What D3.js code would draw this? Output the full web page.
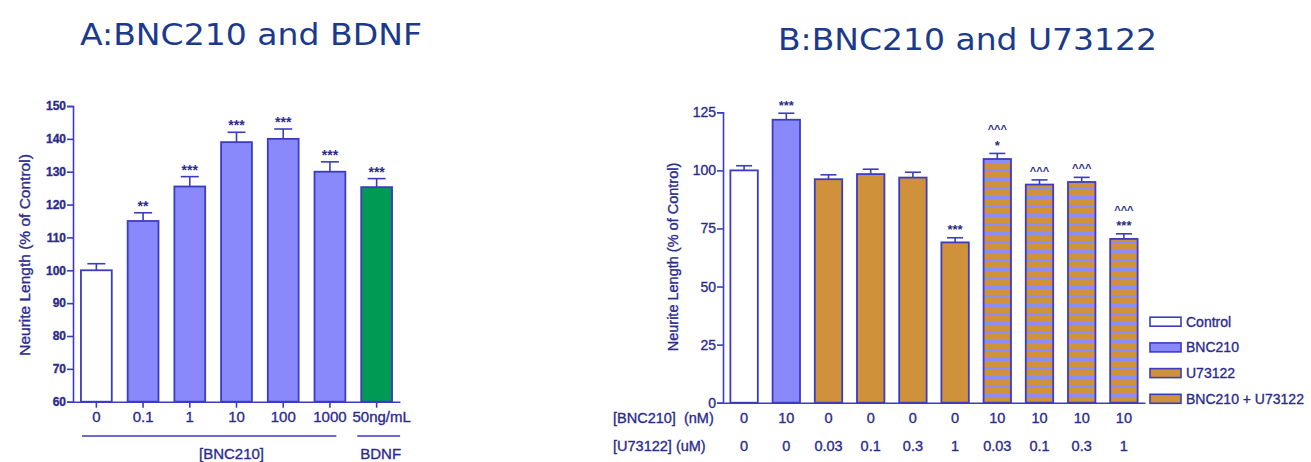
<!DOCTYPE html>
<meta charset="utf-8">
<script src="https://d3js.org/d3.v7.min.js"></script>
<style>
 body { margin: 0; background: #fff; }
 svg text { font-family: "Liberation Sans", Arial, sans-serif; }
 .ink { stroke: #2b2b8e; stroke-width: 0.35px; }
</style>
<div id="chart"></div>
<script>

 const colorText = "#2b2b8e";
 const colorTitle = "#1c3a8c";
 const colorLine = "#3c3cc0";
 const colorPurple = "#8989fb";
 const colorGreen = "#009a55";
 const colorOrange = "#d0913b";

 // ---- data, panel A ----
 const catsA = ["0", "0.1", "1", "10", "100", "1000", "50ng/mL"];
 const valuesA = [100, 115, 125.5, 139, 140, 130, 125.3];
 const errorsA = [2, 2.5, 3, 3, 3, 3, 2.6];
 const starsA = ["", "**", "***", "***", "***", "***", "***"];
 const ticksA = [60, 70, 80, 90, 100, 110, 120, 130, 140, 150];

 // ---- data, panel B ----
 const catsB = ["c0", "c1", "c2", "c3", "c4", "c5", "c6", "c7", "c8", "c9"];
 const bncB = ["0", "10", "0", "0", "0", "0", "10", "10", "10", "10"];
 const uB = ["0", "0", "0.03", "0.1", "0.3", "1", "0.03", "0.1", "0.3", "1"];
 const valuesB = [100, 121.8, 96.2, 98.4, 96.9, 69, 104.9, 93.9, 95, 70.5];
 const errorsB = [2, 2.8, 1.9, 2.1, 2.3, 2, 2.4, 2, 2, 2.2];
 const groupB = ["Control", "BNC210", "U73122", "U73122", "U73122", "U73122",
                 "BNC210 + U73122", "BNC210 + U73122", "BNC210 + U73122", "BNC210 + U73122"];
 // marks above each bar, lowest first
 const sigB = [[], ["***"], [], [], [], ["***"], ["*", "^^^"], ["^^^"], ["^^^"], ["***", "^^^"]];
 const ticksB = [0, 25, 50, 75, 100, 125];
 const legendB = ["Control", "BNC210", "U73122", "BNC210 + U73122"];

 const svg = d3.select("#chart").append("svg")
               .attr("width", 1311).attr("height", 462);

 // stripes for the combined treatment
 const pat = svg.append("defs").append("pattern")
                .attr("id", "stripes").attr("patternUnits", "userSpaceOnUse")
                .attr("width", 10).attr("height", 9).attr("y", 1);
 pat.append("rect").attr("width", 10).attr("height", 9).attr("fill", colorOrange);
 pat.append("rect").attr("y", 6).attr("width", 10).attr("height", 3).attr("fill", "#8c8cf5");

 const fillB = d3.scaleOrdinal().domain(legendB)
                 .range(["#ffffff", colorPurple, colorOrange, "url(#stripes)"]);

 // titles
 svg.append("text").attr("x", 80).attr("y", 45).text("A:BNC210 and BDNF")
    .style("font-family", "DejaVu Sans").style("font-size", "30px").style("fill", colorTitle)
    .attr("textLength", 342).attr("lengthAdjust", "spacingAndGlyphs");
 svg.append("text").attr("x", 778).attr("y", 50).text("B:BNC210 and U73122")
    .style("font-family", "DejaVu Sans").style("font-size", "30px").style("fill", colorTitle)
    .attr("textLength", 379).attr("lengthAdjust", "spacingAndGlyphs");

 function styleAxis(g, size) {
     g.selectAll("path, line").attr("stroke", colorLine).attr("stroke-width", 1.6);
     g.selectAll("text").attr("class", "ink").style("fill", colorText).style("font-size", size)
      .style("font-family", "Liberation Sans");
 }

 // ================= panel A =================
 const xA = d3.scaleBand().domain(catsA).range([73, 400])
              .paddingInner(0.34).paddingOuter(0.17);
 const yA = d3.scaleLinear().domain([60, 150]).range([401.7, 106]);
 const bwA = xA.bandwidth();

 svg.append("g").selectAll("rect").data(catsA).join("rect")
    .attr("x", d => xA(d))
    .attr("y", (d, i) => yA(valuesA[i]))
    .attr("width", bwA)
    .attr("height", (d, i) => yA(60) - yA(valuesA[i]))
    .attr("fill", (d, i) => i == 0 ? "#fff" : (i == 6 ? colorGreen : colorPurple))
    .attr("stroke", colorLine).attr("stroke-width", 1.8);

 // error bars
 const errA = svg.append("g").attr("stroke", colorLine).attr("stroke-width", 1.6);
 catsA.forEach((c, i) => {
     const cx = xA(c) + bwA / 2, top = yA(valuesA[i] + errorsA[i]);
     errA.append("line").attr("x1", cx).attr("x2", cx).attr("y1", yA(valuesA[i])).attr("y2", top);
     errA.append("line").attr("x1", cx - 9).attr("x2", cx + 9).attr("y1", top).attr("y2", top);
     svg.append("text").attr("x", cx).attr("y", top - 2).text(starsA[i])
        .attr("text-anchor", "middle").style("font-size", "14px").style("font-weight", "bold")
        .style("fill", colorText);
 });

 svg.append("g").attr("transform", "translate(73,0)")
    .call(d3.axisLeft(yA).tickValues(ticksA).tickSize(6).tickPadding(1))
    .call(g => styleAxis(g, "12px"))
    .call(g => g.selectAll("text").style("font-weight", "bold"));

 svg.append("g").attr("transform", `translate(0,${yA(60)})`)
    .call(d3.axisBottom(xA).tickSize(6).tickPadding(4).tickSizeOuter(0))
    .call(g => styleAxis(g, "15px"))
    .call(g => g.selectAll(".tick:last-of-type text").attr("dx", 5));

 svg.append("text").attr("class", "ink").attr("transform", "translate(30,255) rotate(-90)")
    .attr("text-anchor", "middle").text("Neurite Length (% of  Control)")
    .style("font-size", "15.5px").style("fill", colorText);

 // group brackets under panel A
 svg.append("line").attr("x1", xA(catsA[0]) + 1).attr("x2", xA(catsA[5]) + bwA - 9)
    .attr("y1", 436).attr("y2", 436).attr("stroke", "#6a6ad6").attr("stroke-width", 2);
 svg.append("line").attr("x1", xA(catsA[6]) - 4).attr("x2", xA(catsA[6]) + bwA + 8)
    .attr("y1", 436).attr("y2", 436).attr("stroke", "#6a6ad6").attr("stroke-width", 2);
 svg.append("text").attr("class", "ink").attr("x", xA("10") + bwA / 2 - 5).attr("y", 459)
    .attr("text-anchor", "middle").text("[BNC210]").style("font-size", "15px").style("fill", colorText);
 svg.append("text").attr("class", "ink").attr("x", xA(catsA[6]) + bwA / 2 + 4).attr("y", 459)
    .attr("text-anchor", "middle").text("BDNF").style("font-size", "15px").style("fill", colorText);

 // ================= panel B =================
 const xB = d3.scaleBand().domain(catsB).range([723, 1145])
              .paddingInner(0.35).paddingOuter(0.175);
 const yB = d3.scaleLinear().domain([0, 125]).range([402.7, 112.3]);
 const bwB = xB.bandwidth();

 svg.append("g").selectAll("rect").data(catsB).join("rect")
    .attr("x", d => xB(d))
    .attr("y", (d, i) => yB(valuesB[i]))
    .attr("width", bwB)
    .attr("height", (d, i) => yB(0) - yB(valuesB[i]))
    .attr("fill", (d, i) => fillB(groupB[i]))
    .attr("stroke", colorLine).attr("stroke-width", 1.8);

 const errB = svg.append("g").attr("stroke", colorLine).attr("stroke-width", 1.6);
 catsB.forEach((c, i) => {
     const cx = xB(c) + bwB / 2, top = yB(valuesB[i] + errorsB[i]);
     errB.append("line").attr("x1", cx).attr("x2", cx).attr("y1", yB(valuesB[i])).attr("y2", top);
     errB.append("line").attr("x1", cx - 8).attr("x2", cx + 8).attr("y1", top).attr("y2", top);
     sigB[i].forEach((s, k) => {
         const caret = s.startsWith("^");
         const centre = top - 11 - k * 15;
         svg.append("text").attr("x", cx).attr("y", centre + (caret ? 6 : 7.4)).text(s)
            .attr("text-anchor", "middle").style("font-size", caret ? "11px" : "13px")
            .style("font-weight", "bold").style("fill", colorText);
     });
 });

 svg.append("g").attr("transform", "translate(723,0)")
    .call(d3.axisLeft(yB).tickValues(ticksB).tickSize(6).tickPadding(1))
    .call(g => styleAxis(g, "14px"));

 svg.append("g").attr("transform", `translate(0,${yB(0)})`)
    .call(d3.axisBottom(xB).tickSize(0).tickFormat(""))
    .call(g => styleAxis(g, "14px"));

 svg.append("text").attr("class", "ink").attr("transform", "translate(678,257) rotate(-90)")
    .attr("text-anchor", "middle").text("Neurite Length (% of Control)")
    .style("font-size", "14.5px").style("fill", colorText);

 // condition rows
 const rowsB = [["[BNC210]  (nM)", bncB, 423], ["[U73122] (uM)", uB, 451]];
 rowsB.forEach(([label, vals, y]) => {
     svg.append("text").attr("class", "ink").attr("x", 613).attr("y", y).text(label)
        .style("white-space", "pre").style("font-size", "14.5px").style("fill", colorText);
     svg.append("g").selectAll("text").data(catsB).join("text").attr("class", "ink")
        .attr("x", d => xB(d) + bwB / 2).attr("y", y).attr("text-anchor", "middle")
        .text((d, i) => vals[i]).style("font-size", "14.5px").style("fill", colorText);
 });

 // legend
 const leg = svg.append("g").selectAll("g").data(legendB).join("g")
                .attr("transform", (d, i) => `translate(1150,${321.7 + i * 25.7})`);
 leg.append("rect").attr("x", 0).attr("y", -4.5).attr("width", 31).attr("height", 9)
    .attr("fill", d => d == "BNC210 + U73122" ? colorOrange : fillB(d))
    .attr("stroke", colorLine).attr("stroke-width", 1.6);
 leg.append("text").attr("class", "ink").attr("x", 36).attr("y", 5).text(d => d)
    .style("font-size", "14px").style("fill", colorText);

</script>
